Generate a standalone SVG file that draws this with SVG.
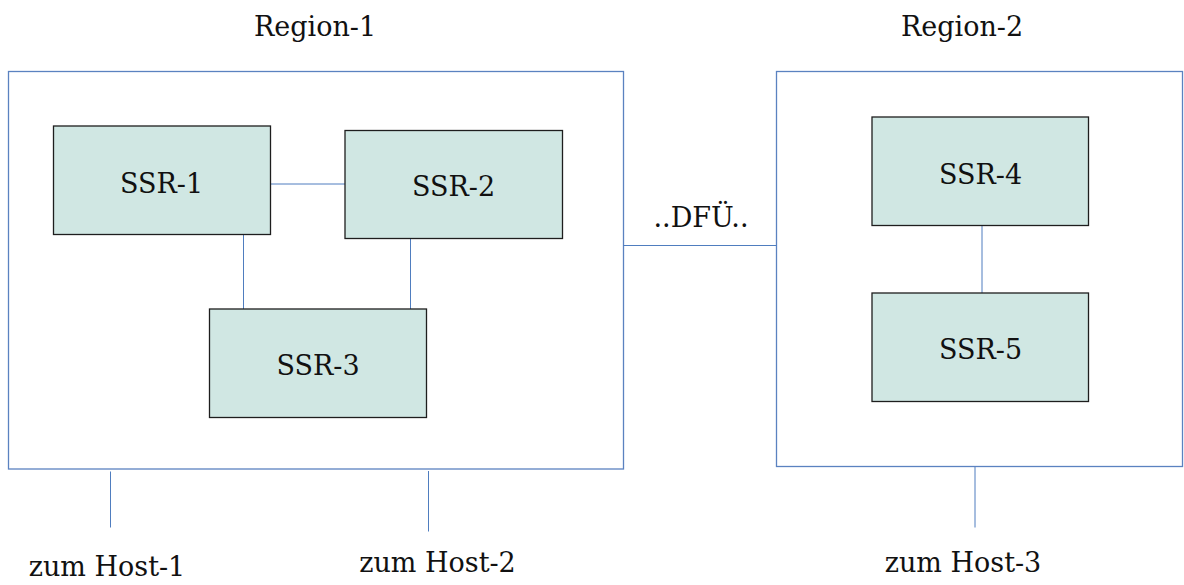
<svg xmlns="http://www.w3.org/2000/svg" width="1184" height="585" viewBox="0 0 1184 585">
<style>
text{font-family:"DejaVu Serif","Liberation Serif",serif;font-size:27px;fill:#111;text-anchor:middle}
.region{fill:#fff;stroke:#5b82c0;stroke-width:1.3}
.ssr{fill:#d0e7e3;stroke:#1e1e1e;stroke-width:1.3}
.conn{fill:none;stroke:#4f7dbf;stroke-width:1}
</style>
<rect width="1184" height="585" fill="#fff"/>
<g id="region-1">
<rect class="region" x="8.5" y="71.5" width="615" height="397.5"/>
<text x="315" y="36">Region-1</text>
</g>
<g id="region-2">
<rect class="region" x="776.5" y="71.5" width="406" height="395"/>
<text x="962" y="36">Region-2</text>
</g>
<g id="connectors">
<path class="conn" d="M270.5 184H345"/>
<path class="conn" d="M243.5 234.5V309"/>
<path class="conn" d="M410.5 238.5V309"/>
<path class="conn" d="M982 225.5V293"/>
<path class="conn" d="M623 245.5H776.5"/>
<path class="conn" d="M110.5 471.5V527.5"/>
<path class="conn" d="M428.5 471V531.5" stroke="#56688a"/>
<path class="conn" d="M975 467V527.5"/>
</g>
<g id="ssr-1">
<rect class="ssr" x="53.5" y="126" width="217" height="108.5"/>
<text x="161.5" y="192.5">SSR-1</text>
</g>
<g id="ssr-2">
<rect class="ssr" x="345" y="130.5" width="217.5" height="108"/>
<text x="453.5" y="196">SSR-2</text>
</g>
<g id="ssr-3">
<rect class="ssr" x="209.5" y="309" width="217" height="108.5"/>
<text x="318" y="374.5">SSR-3</text>
</g>
<g id="ssr-4">
<rect class="ssr" x="872" y="117" width="216.5" height="108.5"/>
<text x="980.5" y="183.5">SSR-4</text>
</g>
<g id="ssr-5">
<rect class="ssr" x="872" y="293" width="216.5" height="108.5"/>
<text x="980.5" y="358.5">SSR-5</text>
</g>
<g id="dfu-label">
<text x="701" y="227">..DFÜ..</text>
</g>
<g id="host-1">
<text x="107" y="576">zum Host-1</text>
</g>
<g id="host-2">
<text x="437.5" y="572">zum Host-2</text>
</g>
<g id="host-3">
<text x="963" y="572">zum Host-3</text>
</g>
</svg>
